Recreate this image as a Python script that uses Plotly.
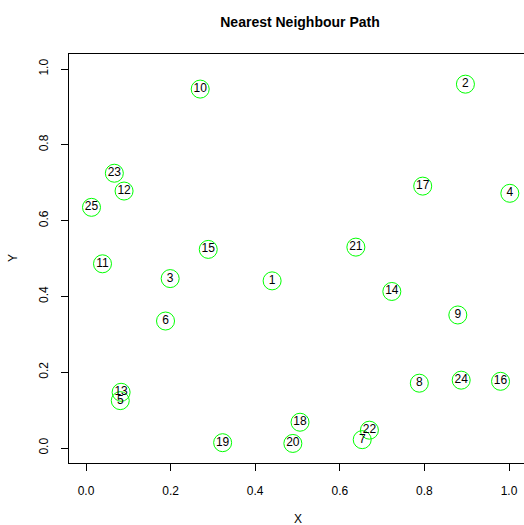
import plotly.graph_objects as go

labels = ["1", "2", "3", "4", "5", "6", "7", "8", "9", "10", "11", "12", "13",
          "14", "15", "16", "17", "18", "19", "20", "21", "22", "23", "24", "25"]
x_vals = [0.440, 0.897, 0.199, 1.002, 0.081, 0.188, 0.653, 0.788, 0.879, 0.270,
          0.039, 0.090, 0.083, 0.723, 0.289, 0.980, 0.796, 0.506, 0.323, 0.489,
          0.638, 0.670, 0.067, 0.887, 0.013]
y_vals = [0.441, 0.960, 0.447, 0.672, 0.125, 0.335, 0.022, 0.171, 0.351, 0.947,
          0.486, 0.678, 0.147, 0.413, 0.524, 0.176, 0.691, 0.068, 0.014, 0.012,
          0.530, 0.047, 0.725, 0.179, 0.635]
tick_vals = [0.0, 0.2, 0.4, 0.6, 0.8, 1.0]
tick_text = ["0.0", "0.2", "0.4", "0.6", "0.8", "1.0"]

FONT = "Liberation Sans, Arial, sans-serif"

fig = go.Figure()
fig.add_trace(go.Scatter(
    x=x_vals, y=y_vals, mode="markers+text", text=labels,
    textposition="middle center",
    textfont=dict(family=FONT, size=12, color="black"),
    marker=dict(symbol="circle-open", size=18, color="#00FF00",
                line=dict(width=1, color="#00FF00")),
    showlegend=False, cliponaxis=False,
))

W, H = 524, 525
L, R, T, B = 69, 0, 54, 62
pw, ph = W - L - R, H - T - B

fig.update_layout(
    width=W, height=H,
    margin=dict(l=L, r=R, t=T, b=B, pad=0),
    paper_bgcolor="white", plot_bgcolor="white",
    font=dict(family=FONT, size=12, color="black"),
    title=dict(text="<b>Nearest Neighbour Path</b>", x=300 / W, xref="container",
               xanchor="center", y=1 - 22 / H, yref="container", yanchor="middle",
               font=dict(family=FONT, size=14, color="black")),
    xaxis=dict(range=[-17 / 423, 438 / 423], tickvals=tick_vals, ticktext=tick_text,
               showgrid=False, zeroline=False, showline=True, mirror=True,
               linecolor="black", linewidth=1, ticks="outside", ticklen=7,
               tickcolor="black", tickwidth=1, ticklabelstandoff=10,
               tickfont=dict(family=FONT, size=12, color="black")),
    yaxis=dict(range=[-15 / 379, 394 / 379], tickvals=tick_vals, ticktext=tick_text,
               showgrid=False, zeroline=False, showline=True, mirror=True,
               linecolor="black", linewidth=1, ticks="outside", ticklen=7,
               tickcolor="black", tickwidth=1, tickangle=-90, ticklabelstandoff=8,
               tickfont=dict(family=FONT, size=12, color="black")),
    annotations=[
        dict(text="X", xref="paper", yref="paper", x=(297.5 - L) / pw,
             y=-(519 - (H - B)) / ph, xanchor="center", yanchor="middle",
             showarrow=False, font=dict(family=FONT, size=12, color="black")),
        dict(text="Y", xref="paper", yref="paper", x=(13 - L) / pw,
             y=((H - B) - 258) / ph, xanchor="center", yanchor="middle",
             textangle=-90, showarrow=False,
             font=dict(family=FONT, size=12, color="black")),
    ],
)

fig.write_html(
    "out.html",
    config={"displayModeBar": False},
    post_script="document.body.style.margin='0';document.body.style.overflow='hidden';",
)
